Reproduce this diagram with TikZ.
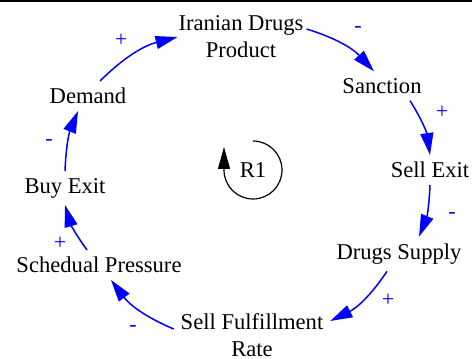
\documentclass[tikz,border=0pt]{standalone}
\usepackage{fontspec}
\setmainfont{Liberation Serif}
\usetikzlibrary{arrows.meta,positioning}
\newcommand\varfont{\fontsize{11.3}{13.5}\selectfont}
\newcommand\signfont{\fontsize{11}{12}\selectfont}
\tikzset{
	var/.style={align=center,font=\varfont},
	sign/.style={text=blue,font=\signfont},
	link/.style={draw=blue,line width=0.75pt,-{Triangle[length=11pt,width=6.5pt]}},
	loopmark/.style={draw=black,line width=0.6pt,-{Triangle[length=11pt,width=6pt]}}
}
\begin{document}
\begin{tikzpicture}[x=0.5pt,y=0.5pt]
            \useasboundingbox (0,0) rectangle (472,359);
            \fill[black] (0,357) rectangle (472,359);
            \node[var] (prod) at (241,322) {Iranian Drugs\\Product};
            \node[var] (sanc) at (382,273) {Sanction};
            \node[var] (sellx) at (430,189) {Sell Exit};
            \node[var] (supply) at (399,105) {Drugs Supply};
            \node[var] (fulfil) at (252,24) {Sell Fulfillment\\Rate};
            \node[var] (sched) at (99,94) {Schedual Pressure};
            \node[var] (buyx) at (65,171) {Buy Exit};
            \node[var] (demand) at (88,263) {Demand};
            \node[var] (r1) at (253,189) {R1};
            % links of the loop
            \draw[link] ([xshift=6pt]demand.north) to[bend left=15] ([xshift=3pt]prod.west);
            \draw[link] ([xshift=-2pt,yshift=4pt]prod.east) to[bend left=15] ([xshift=-4pt]sanc.north);
            \draw[link] ([xshift=14pt]sanc.south) to[bend left=12] (sellx.north);
            \draw[link] (sellx.south) to[bend left=10] ([xshift=10pt]supply.north);
            \draw[link] ([xshift=-6pt]supply.south) to[bend left=15] ([yshift=7pt]fulfil.east);
            \draw[link] ([yshift=3pt]fulfil.west) to[bend left=15] ([xshift=6pt]sched.south);
            \draw[link] ([xshift=-6pt]sched.north) to[bend left=10] (buyx.south);
            \draw[link] (buyx.north) to[bend left=10] ([xshift=-5pt]demand.south);
            % polarities
            \node[sign] (s1) at (121,319) {+};
            \node[sign] (s2) at (358,329) {-};
            \node[sign] (s3) at (442,247) {+};
            \node[sign] (s4) at (452,144) {-};
            \node[sign] (s5) at (388,59) {+};
            \node[sign] (s6) at (133,30) {-};
            \node[sign] (s7) at (60,116) {+};
            \node[sign] (s8) at (49,217) {-};
            % loop marker
            \draw[loopmark] (r1.center) ++(0,29) arc[start angle=90,end angle=-180,radius=29] -- ++(0,23);
        \end{tikzpicture}
\end{document}
